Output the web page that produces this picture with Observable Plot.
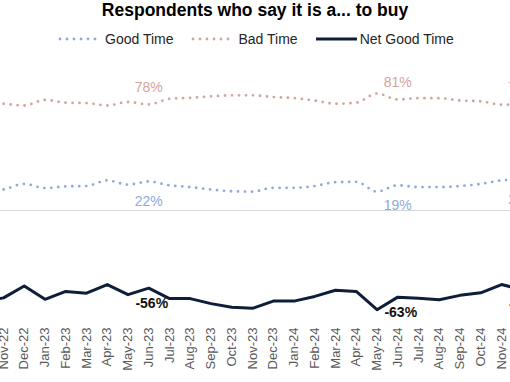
<!DOCTYPE html>
<html>
<head>
<meta charset="utf-8">
<script src="https://cdn.jsdelivr.net/npm/d3@7"></script>
<script src="https://cdn.jsdelivr.net/npm/@observablehq/plot@0.6"></script>
<style>
  html, body { margin: 0; padding: 0; background: #fff; }
  #chart { position: relative; width: 510px; height: 382px; overflow: hidden; font-family: "Liberation Sans", Arial, sans-serif; }
  #chart .panel svg { overflow: visible; }
  .title { position: absolute; left: 0; top: -2px; width: 510px; height: 24px; line-height: 24px; text-align: center; font-weight: bold; font-size: 17.5px; color: #000; }
  .legend { position: absolute; left: 58px; top: 28px; height: 22px; line-height: 22px; display: flex; align-items: center; font-size: 14px; color: #262626; white-space: nowrap; }
  .legend svg { display: block; }
  .panel { position: absolute; left: 0; width: 510px; }
</style>
</head>
<body>
<div id="chart">
  <div class="title">Respondents who say it is a... to buy</div>
  <div class="legend" id="legend"></div>
  <div class="panel" id="bad" style="top:50px"></div>
  <div class="panel" id="good" style="top:140px"></div>
  <div class="panel" id="net" style="top:211px"></div>
</div>
<script>
const months = ["Oct-22","Nov-22","Dec-22","Jan-23","Feb-23","Mar-23","Apr-23","May-23","Jun-23","Jul-23","Aug-23","Sep-23","Oct-23","Nov-23","Dec-23","Jan-24","Feb-24","Mar-24","Apr-24","May-24","Jun-24","Jul-24","Aug-24","Sep-24","Oct-24","Nov-24","Dec-24"];
const goodTime = [19.0,19.7,21.3,20.1,20.6,20.7,22.3,21.1,22.0,20.9,20.4,19.7,19.2,19.1,20.2,20.2,20.7,21.8,21.9,19.1,20.9,20.4,20.4,20.7,21.3,22.3,22.6];
const badTime = [78.8,78.2,77.7,79.3,78.5,78.4,77.7,78.7,78.0,79.6,79.9,80.3,80.6,80.6,80.1,79.8,79.1,78.2,78.5,81.1,79.4,79.8,79.8,79.1,78.9,77.9,78.0];
const netGoodTime = [-59.8,-58.7,-55.4,-59.1,-56.9,-57.4,-55.0,-57.8,-56.0,-58.9,-58.9,-60.3,-61.3,-61.6,-59.6,-59.6,-58.3,-56.6,-56.9,-62.0,-58.5,-58.8,-59.2,-58.0,-57.3,-55.0,-56.4];

const labelMonths = ["Jun-23","Jun-24","Dec-24"];
const goodLabels = ["22%","19%","22%"];
const badLabels = ["78%","81%","78%"];
const netLabels = ["-56%","-63%","-56%"];

const seriesNames = ["Good Time","Bad Time","Net Good Time"];
const goodColor = "#8eaad8";
const badColor = "#d3a39d";
const netColor = "#0e1d38";

const W = 510;
const xDomain = [0.855, 25.434];
const font = "Liberation Sans, Arial, sans-serif";

const rows = (vals) => months.map((m, i) => ({i, m, v: vals[i]}));
const labelRows = (vals, texts) => labelMonths.map((m, k) => {
  const i = months.indexOf(m);
  return {i, v: vals[i], t: texts[k]};
});

function dottedPanel(vals, texts, color, yDomain, height, dy, withBase) {
  const marks = [
    Plot.line(rows(vals), {x: "i", y: "v", stroke: color, strokeWidth: 2.8, strokeDasharray: "0,7", strokeLinecap: "round", curve: "monotone-x"}),
    Plot.text(labelRows(vals, texts), {x: "i", y: "v", text: "t", dy, fill: color, fontSize: 14})
  ];
  if (withBase) marks.push(Plot.ruleY([yDomain[0]], {stroke: "#d9d9d9", strokeWidth: 1}));
  return Plot.plot({
    width: W, height,
    marginLeft: 0, marginRight: 0, marginTop: 0, marginBottom: withBase ? 1 : 0,
    style: {fontFamily: font, background: "transparent"},
    x: {type: "linear", domain: xDomain, axis: null},
    y: {domain: yDomain, axis: null},
    marks
  });
}

document.getElementById("bad").appendChild(
  dottedPanel(badTime, badLabels, badColor, [67.7, 93.4], 90, -17, false));
document.getElementById("good").appendChild(
  dottedPanel(goodTime, goodLabels, goodColor, [13.71, 33.71], 71, 20, true));

const tickIdx = months.map((m, i) => i).filter(i => i >= xDomain[0] && i <= xDomain[1]);
document.getElementById("net").appendChild(Plot.plot({
  width: W, height: 171,
  marginLeft: 0, marginRight: 0, marginTop: 0, marginBottom: 58,
  style: {fontFamily: font, background: "transparent"},
  x: {type: "linear", domain: xDomain},
  y: {domain: [-66.1, -34.7], axis: null},
  marks: [
    Plot.axisX(tickIdx, {tickFormat: i => months[i], tickRotate: -90, tickSize: 0, tickPadding: 3, fontSize: 13, fill: "#595959", label: null}),
    Plot.line(rows(netGoodTime), {x: "i", y: "v", stroke: netColor, strokeWidth: 3, strokeLinejoin: "round"}),
    Plot.text(labelRows(netGoodTime, netLabels), {x: "i", y: "v", text: "t", dy: 15, dx: 3, fill: "#111", fontSize: 14, fontWeight: "bold"})
  ]
}));

// legend
const legend = document.getElementById("legend");
const swatch = (color, dotted, w) => {
  const s = d3.create("svg").attr("width", w).attr("height", 10);
  s.append("line").attr("x1", dotted ? 2 : 0).attr("x2", w - 1).attr("y1", 5).attr("y2", 5)
    .attr("stroke", color).attr("stroke-width", dotted ? 2.8 : 3)
    .attr("stroke-dasharray", dotted ? "0,7" : null).attr("stroke-linecap", dotted ? "round" : "butt");
  return s.node();
};
const items = [
  {name: seriesNames[0], color: goodColor, dotted: true, w: 40, gap: 7},
  {name: seriesNames[1], color: badColor, dotted: true, w: 40, gap: 7},
  {name: seriesNames[2], color: netColor, dotted: false, w: 42, gap: 2}
];
items.forEach((it, k) => {
  const wrap = document.createElement("div");
  wrap.style.display = "flex"; wrap.style.alignItems = "center";
  if (k > 0) wrap.style.marginLeft = "18px";
  const sw = swatch(it.color, it.dotted, it.w);
  sw.style.marginRight = it.gap + "px";
  wrap.appendChild(sw);
  const t = document.createElement("span"); t.textContent = it.name;
  wrap.appendChild(t);
  legend.appendChild(wrap);
});
</script>
</body>
</html>
